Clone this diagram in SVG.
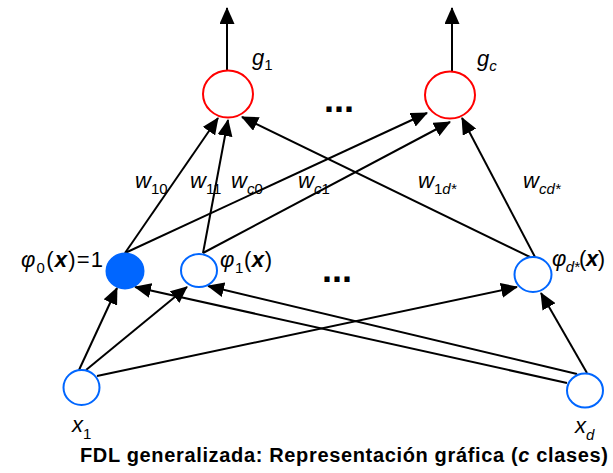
<svg xmlns="http://www.w3.org/2000/svg" width="613" height="473" viewBox="0 0 613 473">
<defs>
<marker id="ah" markerUnits="userSpaceOnUse" markerWidth="17" markerHeight="15" refX="16" refY="7.5" orient="auto" viewBox="0 0 17 15">
<path d="M0,0 L17,7.5 L0,15 z" fill="#000"/>
</marker>
<style>
.out{fill:#fff;stroke:#ff0000;stroke-width:2}
.hid{fill:#fff;stroke:#0066ff;stroke-width:2}
.bias{fill:#0066ff;stroke:#0066ff;stroke-width:2}
.c line{stroke:#000;stroke-width:2;marker-end:url(#ah)}
text{font-family:"Liberation Sans",Arial,Helvetica,sans-serif;fill:#000}
.lab{font-size:22px}
.it{font-style:italic}
.sub{font-size:15px}
.bi{font-weight:bold;font-style:italic}
.dots{font-size:36px;font-weight:bold}
.title{font-size:20px;font-weight:bold}
</style>
</defs>
<rect width="613" height="473" fill="#fff"/>

<g id="connectors" class="c">
<line x1="227" y1="70" x2="227" y2="8"/>
<line x1="452" y1="72" x2="452" y2="8"/>
<line x1="125" y1="253" x2="218" y2="118"/>
<line x1="203" y1="253" x2="228" y2="120"/>
<line x1="530" y1="257" x2="242" y2="117"/>
<line x1="125" y1="253" x2="427" y2="113"/>
<line x1="203" y1="253" x2="450" y2="122"/>
<line x1="535" y1="257" x2="462" y2="118"/>
<line x1="79" y1="370" x2="117" y2="288"/>
<line x1="86" y1="370" x2="187" y2="287"/>
<line x1="97" y1="376" x2="517" y2="287"/>
<line x1="567" y1="383" x2="135" y2="287"/>
<line x1="577" y1="374" x2="208" y2="286"/>
<line x1="587" y1="373" x2="541" y2="293"/>
</g>

<g id="g1"><ellipse class="out" cx="228" cy="94" rx="25" ry="23.5"/>
<text class="lab" x="252" y="65"><tspan class="it">g</tspan><tspan class="sub" dy="5">1</tspan></text></g>
<g id="gc"><ellipse class="out" cx="450" cy="95" rx="25" ry="23.5"/>
<text class="lab" x="477" y="66"><tspan class="it">g</tspan><tspan class="sub it" dy="5">c</tspan></text></g>

<g id="phi0"><ellipse class="bias" cx="125" cy="271" rx="18.5" ry="17.5"/>
<text class="lab" x="21" y="267" textLength="82" lengthAdjust="spacing"><tspan class="it">φ</tspan><tspan class="sub" dy="6">0</tspan><tspan dy="-6">(</tspan><tspan class="bi">x</tspan>)=1</text></g>
<g id="phi1"><ellipse class="hid" cx="199" cy="270.5" rx="18" ry="16.5"/>
<text class="lab" x="220" y="267" textLength="52" lengthAdjust="spacing"><tspan class="it">φ</tspan><tspan class="sub" dy="6">1</tspan><tspan dy="-6">(</tspan><tspan class="bi">x</tspan>)</text></g>
<g id="phid"><ellipse class="hid" cx="533" cy="274.5" rx="18.5" ry="17.5"/>
<text class="lab" x="552" y="266" textLength="53" lengthAdjust="spacing"><tspan class="it">φ</tspan><tspan class="sub it" dy="6">d*</tspan><tspan dy="-6">(</tspan><tspan class="bi">x</tspan>)</text></g>

<g id="x1"><ellipse class="hid" cx="81.5" cy="387.5" rx="18" ry="17.5"/>
<text class="lab" x="72" y="432"><tspan class="it">x</tspan><tspan class="sub" dy="7">1</tspan></text></g>
<g id="xd"><ellipse class="hid" cx="585" cy="390.5" rx="18" ry="17"/>
<text class="lab" x="575" y="433"><tspan class="it">x</tspan><tspan class="sub it" dy="7">d</tspan></text></g>

<g id="weights">
<text class="lab" x="135" y="188"><tspan class="it">w</tspan><tspan class="sub" dy="6">10</tspan></text>
<text class="lab" x="190" y="188"><tspan class="it">w</tspan><tspan class="sub" dy="6">11</tspan></text>
<text class="lab" x="231" y="188"><tspan class="it">w</tspan><tspan class="sub" dy="6"><tspan class="it">c</tspan>0</tspan></text>
<text class="lab" x="298" y="188"><tspan class="it">w</tspan><tspan class="sub" dy="6"><tspan class="it">c</tspan>1</tspan></text>
<text class="lab" x="418" y="188"><tspan class="it">w</tspan><tspan class="sub" dy="6">1<tspan class="it">d*</tspan></tspan></text>
<text class="lab" x="523" y="188"><tspan class="it">w</tspan><tspan class="sub it" dy="6">cd*</tspan></text>
</g>

<text class="dots" x="339" y="112" text-anchor="middle">...</text>
<text class="dots" x="337" y="282" text-anchor="middle">...</text>

<text class="title" x="80" y="462" textLength="528" lengthAdjust="spacing">FDL generalizada: Representación gráfica (<tspan font-style="italic">c</tspan> clases)</text>
</svg>
